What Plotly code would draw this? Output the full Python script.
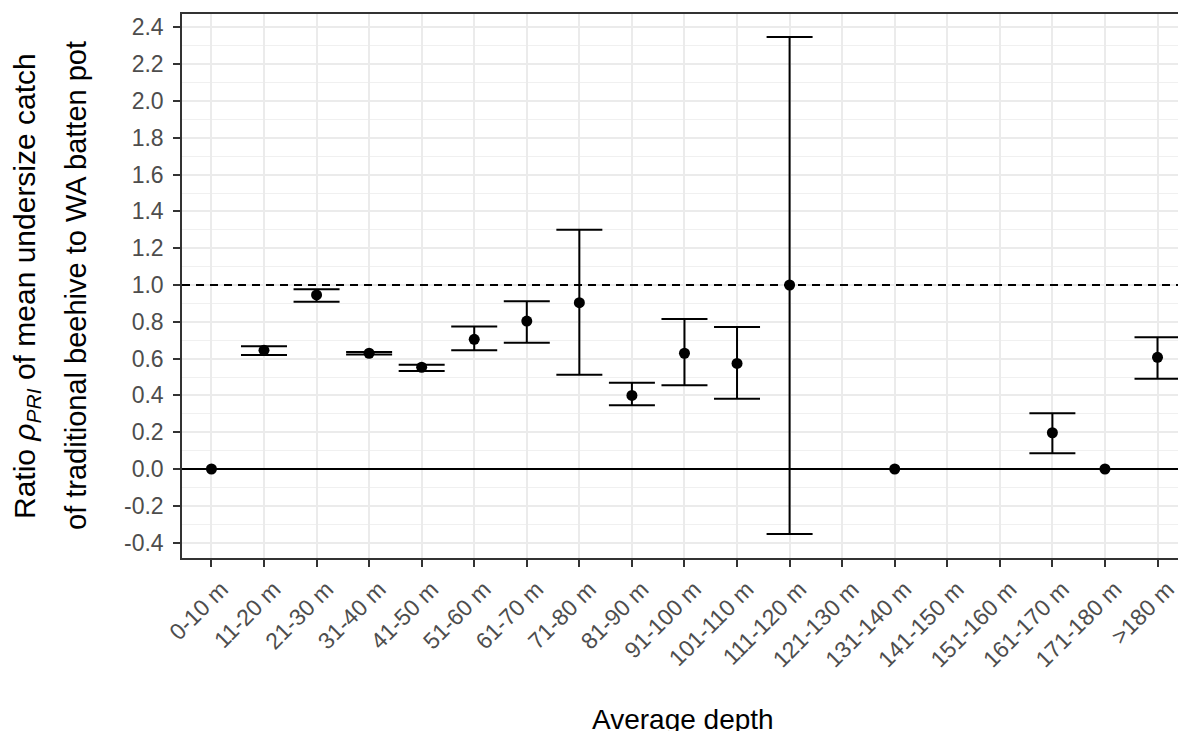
import plotly.graph_objects as go

categories = ["0-10 m", "11-20 m", "21-30 m", "31-40 m", "41-50 m", "51-60 m",
              "61-70 m", "71-80 m", "81-90 m", "91-100 m", "101-110 m", "111-120 m",
              "121-130 m", "131-140 m", "141-150 m", "151-160 m", "161-170 m",
              "171-180 m", ">180 m"]
ratio = [0.0, 0.645, 0.946, 0.629, 0.553, 0.705, 0.804, 0.904, 0.40, 0.629, 0.574, 1.0,
         None, 0.0, None, None, 0.197, 0.0, 0.607]
lower = [0.0, 0.620, 0.909, 0.622, 0.533, 0.645, 0.686, 0.512, 0.346, 0.455, 0.382, -0.353,
         None, 0.0, None, None, 0.085, 0.0, 0.491]
upper = [0.0, 0.667, 0.977, 0.636, 0.567, 0.774, 0.911, 1.300, 0.469, 0.815, 0.772, 2.348,
         None, 0.0, None, None, 0.303, 0.0, 0.716]
ytick_vals = [-0.4, -0.2, 0.0, 0.2, 0.4, 0.6, 0.8, 1.0, 1.2, 1.4, 1.6, 1.8, 2.0, 2.2, 2.4]
ytick_text = ["%.1f" % v for v in ytick_vals]

err_plus = [None if r is None else u - r for r, u in zip(ratio, upper)]
err_minus = [None if r is None else r - l for r, l in zip(ratio, lower)]

FONT = "Liberation Sans, Arial, sans-serif"
W, H = 1178, 731
L, R, T, B = 182, 0, 14, 173
pw, ph = W - L - R, H - T - B

x_per = 52.56
x_left = -0.56
x_right = x_left + pw / x_per

fig = go.Figure()
fig.add_trace(go.Scatter(
    x=categories, y=ratio, mode="markers",
    marker=dict(color="black", size=11),
    error_y=dict(type="data", symmetric=False, array=err_plus, arrayminus=err_minus,
                 color="black", thickness=2, width=23),
    showlegend=False, cliponaxis=False,
))

fig.add_shape(type="line", xref="x", yref="y", x0=x_left, x1=x_right, y0=0, y1=0,
              line=dict(color="black", width=2), layer="between")
fig.add_shape(type="line", xref="x", yref="y", x0=x_left, x1=x_right, y0=1, y1=1,
              line=dict(color="black", width=2, dash="8px,6px"), layer="between")

fig.update_layout(
    width=W, height=H,
    margin=dict(l=L, r=R, t=T, b=B, autoexpand=False),
    paper_bgcolor="white", plot_bgcolor="white",
    font=dict(family=FONT, color="#4D4D4D", size=23),
    xaxis=dict(
        type="category", categoryorder="array", categoryarray=categories,
        range=[x_left, x_right],
        showgrid=True, gridcolor="#EBEBEB", gridwidth=2,
        showline=True, mirror=True, linecolor="#333333", linewidth=1.5,
        ticks="outside", ticklen=7, tickwidth=2, tickcolor="#333333",
        tickangle=-45, tickfont=dict(family=FONT, size=23, color="#4D4D4D"),
        ticklabelshift=10, ticklabelstandoff=0,
        zeroline=False, automargin=False,
    ),
    yaxis=dict(
        range=[-0.4837, 2.4728],
        tickmode="array", tickvals=ytick_vals, ticktext=ytick_text,
        showgrid=True, gridcolor="#EBEBEB", gridwidth=2,
        minor=dict(dtick=0.1, tick0=0, showgrid=True, gridcolor="#F0F0F0", gridwidth=1.2),
        showline=True, mirror=False, linecolor="#333333", linewidth=1.5,
        ticks="outside", ticklen=7, tickwidth=2, tickcolor="#333333",
        tickfont=dict(family=FONT, size=23, color="#4D4D4D"),
        ticklabelstandoff=5,
        zeroline=False, automargin=False,
    ),
    annotations=[
        dict(text="Average depth", xref="paper", yref="paper",
             x=(683 - L) / pw, y=(T + ph - 719) / ph, xanchor="center", yanchor="middle",
             showarrow=False, font=dict(family=FONT, size=28, color="black")),
        dict(text="Ratio <i>ρ</i><sub><i>PRI</i></sub> of mean undersize catch",
             xref="paper", yref="paper", textangle=-90,
             x=(26 - L) / pw, y=0.5, xanchor="center", yanchor="middle",
             showarrow=False, font=dict(family=FONT, size=30, color="black")),
        dict(text="of traditional beehive to WA batten pot",
             xref="paper", yref="paper", textangle=-90,
             x=(76 - L) / pw, y=0.5, xanchor="center", yanchor="middle",
             showarrow=False, font=dict(family=FONT, size=29, color="black")),
    ],
)

fig.write_html("out.html")
